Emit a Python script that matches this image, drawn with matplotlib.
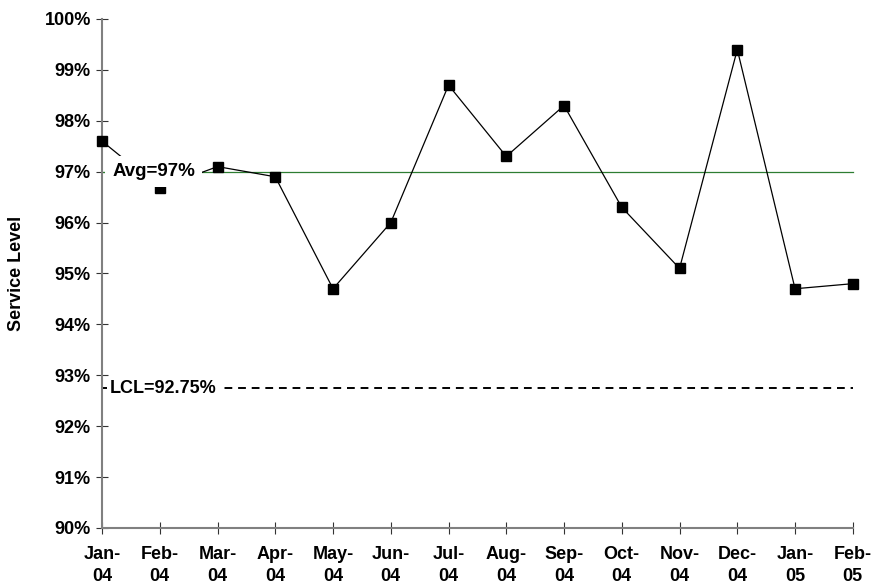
import matplotlib
matplotlib.use("Agg")
import matplotlib.pyplot as plt
from matplotlib.ticker import FuncFormatter, MultipleLocator

plt.rcParams['font.family'] = ['Liberation Sans', 'DejaVu Sans']

months = ["Jan-\n04", "Feb-\n04", "Mar-\n04", "Apr-\n04", "May-\n04", "Jun-\n04", "Jul-\n04",
          "Aug-\n04", "Sep-\n04", "Oct-\n04", "Nov-\n04", "Dec-\n04", "Jan-\n05", "Feb-\n05"]
service = [97.6, 96.68, 97.1, 96.9, 94.7, 96.0, 98.7, 97.3, 98.3, 96.3, 95.1, 99.4, 94.7, 94.8]
avg = 97.0
lcl = 92.75

FS = 13

fig = plt.figure(figsize=(8.81, 5.86), dpi=100)
ax = fig.add_axes([0.1158, 0.099, 0.8522, 0.8686])
x = list(range(len(months)))

ax.plot(x, service, color='black', lw=0.9, marker='s', ms=7.5, mfc='black', mec='black', zorder=3)
ax.plot([x[0], x[-1]], [avg, avg], color='#2e7d32', lw=0.9, zorder=2)
ax.plot([x[0], x[-1]], [lcl, lcl], color='black', lw=1.4, ls=(0, (4, 3)), zorder=2)

ax.text(0.18, avg, "Avg=97%", fontsize=FS + 0.5, fontweight='bold', va='center', ha='left',
        bbox=dict(facecolor='white', edgecolor='none', pad=5), zorder=4)
ax.text(0.14, lcl, "LCL=92.75%", fontsize=FS, fontweight='bold', va='center', ha='left',
        bbox=dict(facecolor='white', edgecolor='none', pad=2), zorder=4)

ax.set_xlim(x[0], x[-1])
ax.set_ylim(90, 100)
ax.yaxis.set_major_locator(MultipleLocator(1))
ax.yaxis.set_major_formatter(FuncFormatter(lambda v, p: f"{v:.0f}%"))
ax.set_xticks(x)
ax.set_xticklabels(months, fontsize=FS, fontweight='bold', linespacing=1.35)
for lab in ax.get_yticklabels():
    lab.set_fontsize(FS)
    lab.set_fontweight('bold')
ax.tick_params(axis='both', direction='inout', length=8, width=0.8, color='#333333', pad=4)
ax.tick_params(axis='x', pad=9)
for s in ['top', 'right']:
    ax.spines[s].set_visible(False)
for s in ['left', 'bottom']:
    ax.spines[s].set_color('#808080')
    ax.spines[s].set_linewidth(1.5)
ax.set_ylabel("Service Level", fontsize=FS, fontweight='bold', labelpad=14)
for ln in ax.lines:
    ln.set_clip_on(False)

fig.savefig("out.png", dpi=100)
